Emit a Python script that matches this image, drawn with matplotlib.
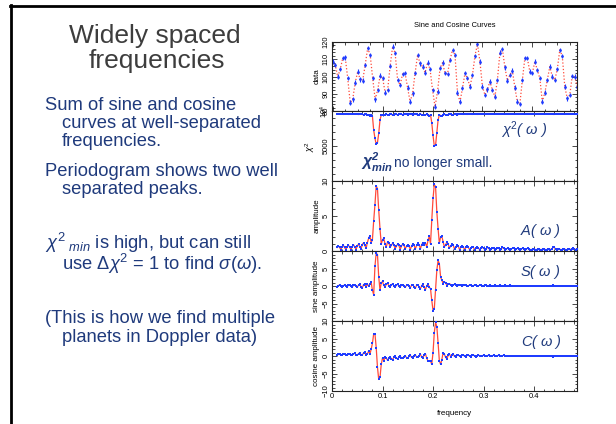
import numpy as np
import matplotlib
matplotlib.use("Agg")
import matplotlib.pyplot as plt
from matplotlib.ticker import MultipleLocator, FixedLocator, FixedFormatter
from matplotlib.lines import Line2D

plt.rcParams['font.family'] = ['Liberation Sans', 'DejaVu Sans']
plt.rcParams['mathtext.fontset'] = 'custom'
plt.rcParams['mathtext.rm'] = 'Liberation Sans'
plt.rcParams['mathtext.it'] = 'Liberation Sans:italic'
plt.rcParams['mathtext.bf'] = 'Liberation Sans:bold:italic'

# ---------------- data ----------------
data_values = [108.6, 106.7, 99.9, 104.2, 110.6, 111.1, 99.0, 84.8, 86.8, 96.4,
               102.8, 98.4, 97.6, 106.7, 116.4, 112.5, 99.0, 86.8, 92.2, 100.5,
               99.0, 90.6, 92.2, 106.1, 117.3, 113.5, 98.0, 95.1, 101.5, 101.9,
               93.5, 85.4, 90.2, 101.9, 112.5, 107.6, 105.7, 102.2, 108.0, 104.2,
               92.2, 82.5, 91.2, 104.8, 108.0, 101.9, 101.5, 109.6, 115.4, 112.5,
               90.6, 85.4, 93.2, 101.9, 99.0, 94.1, 100.9, 111.9, 118.9, 108.6,
               94.1, 89.3, 92.6, 97.0, 92.2, 88.3, 98.0, 113.8, 115.8, 105.3,
               97.6, 100.9, 103.4, 93.5, 85.4, 84.1, 98.0, 110.6, 110.6, 102.8,
               101.9, 108.6, 103.8, 99.0, 85.4, 90.6, 98.0, 105.7, 99.9, 98.0,
               104.2, 115.4, 111.9, 94.1, 87.3, 89.3, 100.3, 99.9, 94.1]
data_time = np.arange(len(data_values))

freq_start, freq_step, n_freq = 0.01, 0.0025, 191
frequency = freq_start + freq_step * np.arange(n_freq)

chi2_values = (
    [9530, 9520, 9530, 9540, 9530, 9510, 9530, 9540, 9530, 9510, 9530, 9540, 9530, 9510, 9520, 9540,
     9520, 9500, 9520, 9540, 9510, 9470, 9500, 9530]
    + [9480, 9390, 9310, 9450, 9300, 7290, 6100, 5240, 5470, 6810, 8710, 9430, 9420, 9390, 9480, 9510]
    + [9460, 9470, 9520, 9500, 9470, 9490, 9530, 9510, 9480, 9500, 9530, 9510, 9490, 9500, 9530,
       9510, 9490, 9510, 9530, 9510, 9480, 9500, 9530, 9500, 9470, 9490, 9530, 9490, 9460, 9490]
    + [9480, 9510, 9440, 9330, 9480, 8300, 6500, 5000, 5100, 6900, 8700, 9450, 9350, 9330, 9450,
       9510, 9480, 9450, 9490, 9520]
    + [9500, 9470, 9490, 9530, 9510, 9490, 9500, 9530, 9520, 9500, 9510, 9530, 9520, 9510, 9520,
       9530, 9520, 9510, 9520, 9530, 9520, 9510, 9520, 9530, 9530, 9520, 9520, 9530, 9530, 9520]
    + [9530, 9530, 9520, 9530, 9530, 9530, 9520, 9530, 9530, 9530,
       9530, 9520, 9530, 9530, 9530, 9520, 9530, 9530, 9530, 9520,
       9530, 9530, 9520, 9530, 9530, 9530, 9520, 9530, 9530, 9530,
       9530, 9520, 9530, 9530, 9530, 9520, 9530, 9530, 9530, 9520,
       9530, 9530, 9520, 9530, 9530, 9530, 9520, 9530, 9530, 9530,
       9530, 9510, 9510, 9530, 9530, 9530, 9520, 9530, 9530, 9530,
       9530, 9520, 9530, 9530, 9530, 9520, 9530, 9530, 9530, 9520, 9530]
)

amplitude_values = (
    [0.5, 0.7, 0.5, 0.2, 0.6, 0.8, 0.5, 0.2, 0.6, 0.8, 0.6, 0.2, 0.6, 0.9, 0.6, 0.2, 0.7, 1.0, 0.6,
     0.3, 0.9, 1.2, 0.8, 0.4]
    + [1.2, 1.8, 2.2, 1.2, 1.6, 4.3, 6.6, 9.3, 8.9, 5.8, 3.2, 1.0, 1.6, 1.8, 1.0, 0.6]
    + [1.3, 1.2, 0.5, 0.8, 1.1, 0.9, 0.3, 0.7, 1.0, 0.8, 0.2, 0.7, 1.0, 0.8, 0.3, 0.7, 0.9, 0.7,
       0.2, 0.7, 1.0, 0.8, 0.3, 0.8, 1.1, 0.9, 0.3, 0.9, 1.2, 0.9]
    + [1.15, 0.6, 1.5, 2.1, 1.0, 4.4, 7.5, 9.5, 9.2, 5.6, 3.2, 1.1, 2.0, 2.1, 1.3, 0.6, 0.9, 1.3, 1.0, 0.4]
    + [0.7, 1.0, 0.8, 0.3, 0.6, 0.8, 0.7, 0.2, 0.5, 0.7, 0.6, 0.2, 0.5, 0.7, 0.5, 0.2, 0.4, 0.6,
       0.5, 0.2, 0.4, 0.5, 0.4, 0.2, 0.4, 0.5, 0.4, 0.2, 0.3, 0.5]
    + [0.4, 0.2, 0.3, 0.4, 0.4, 0.2, 0.3, 0.4, 0.4, 0.2,
       0.3, 0.5, 0.4, 0.2, 0.3, 0.4, 0.3, 0.2, 0.3, 0.4,
       0.4, 0.2, 0.3, 0.4, 0.3, 0.2, 0.3, 0.4, 0.3, 0.1,
       0.3, 0.4, 0.3, 0.2, 0.2, 0.3, 0.3, 0.2, 0.2, 0.3,
       0.3, 0.2, 0.2, 0.3, 0.3, 0.2, 0.2, 0.3, 0.3, 0.2,
       0.3, 0.5, 0.5, 0.3, 0.2, 0.3, 0.3, 0.2, 0.2, 0.3,
       0.3, 0.2, 0.2, 0.3, 0.3, 0.2, 0.3, 0.4, 0.3, 0.2, 0.3]
)

sine_values = (
    [-0.2, 0.1, 0.3, 0.0, -0.3, 0.1, 0.3, 0.0, -0.2, 0.2, 0.3, -0.1, -0.3, 0.2, 0.4, -0.1, -0.4,
     0.3, 0.5, -0.2, -0.5, 0.4, 0.6, -0.3]
    + [0.5, 0.0, 0.6, 1.1, -1.2, -2.5, 5.6, 9.4, 9.0, 2.6, -1.2, 0.9, 1.3, 0.2, -0.3, 0.5]
    + [0.8, 0.1, -0.4, 0.4, 0.6, 0.0, -0.4, 0.3, 0.5, 0.0, -0.4, 0.3, 0.4, -0.1, -0.4, 0.2, 0.4,
       -0.1, -0.5, 0.2, 0.4, -0.2, -0.6, 0.2, 0.4, -0.3, -0.8, 0.1, 0.5, -0.4]
    + [-1.0, 0.0, 0.6, -0.3, -0.8, -4.1, -7.0, -6.5, -1.2, 4.5, 7.3, 6.4, 2.6, 1.6, 0.7, 1.2, 0.9,
       0.1, 0.5, 0.7]
    + [0.4, -0.1, 0.3, 0.5, 0.3, -0.1, 0.2, 0.4, 0.2, -0.1, 0.2, 0.3, 0.2, -0.1, 0.1, 0.3, 0.2,
       -0.1, 0.1, 0.3, 0.2, -0.1, 0.1, 0.2, 0.2, -0.1, 0.1, 0.2, 0.2, 0.0]
    + [0.1, 0.2, 0.1, 0.0, 0.1, 0.2, 0.1, -0.1, 0.1, 0.2,
       0.1, 0.0, 0.1, 0.2, 0.1, 0.0, 0.0, 0.2, 0.1, 0.0,
       0.0, 0.1, 0.1, -0.1, 0.0, 0.1, 0.1, -0.1, 0.0, 0.1,
       0.1, 0.0, 0.0, 0.1, 0.1, 0.0, 0.0, 0.1, 0.1, 0.0,
       0.0, 0.1, 0.1, 0.0, 0.0, 0.1, 0.0, 0.0, 0.0, 0.1,
       0.1, 0.2, 0.0, -0.1, 0.0, 0.1, 0.0, 0.0, 0.0, 0.1,
       0.1, 0.0, 0.0, 0.1, 0.1, 0.0, 0.0, 0.1, 0.1, 0.0, 0.1]
)

cosine_values = (
    [0.2, 0.5, 0.6, 0.3, 0.2, 0.6, 0.7, 0.3, 0.2, 0.6, 0.7, 0.3, 0.2, 0.6, 0.8, 0.3, 0.2, 0.7,
     0.9, 0.3, 0.3, 0.9, 1.1, 0.4, 0.6, 1.4]
    + [0.5, 1.9, 3.6, 6.3, 6.4, 2.4, -3.2, -6.7, -6.1, -2.4, -0.5, -1.4, -0.3, -0.6]
    + [-1.2, -0.6, -0.2, -0.8, -1.0, -0.4, -0.1, -0.7, -0.8, -0.3, 0.0, -0.6, -0.7, -0.2, 0.1,
       -0.5, -0.6, -0.1, 0.2, -0.4, -0.5, 0.0, 0.3, -0.3, -0.4, 0.1, 0.5, -0.3, -0.5, 0.3]
    + [0.6, -0.6, -1.5, -1.4, -1.4, -2.4, 1.0, 6.7, 9.6, 8.4, 3.8, -1.4, -2.4, -1.0, 1.0, 0.5,
       -0.4, -0.8, 0.2, 0.6]
    + [-0.2, 0.3, 0.5, -0.1, -0.3, 0.2, 0.4, -0.1, -0.2, 0.2, 0.4, -0.1, -0.2, 0.2, 0.3, -0.1,
       -0.2, 0.2, 0.3, 0.0, -0.2, 0.1, 0.3, 0.0, -0.1, 0.1, 0.2, 0.0, -0.1, 0.1]
    + [0.2, 0.0, -0.1, 0.1, 0.2, 0.0, -0.1, 0.1, 0.2, 0.0,
       -0.1, 0.1, 0.2, 0.0, -0.1, 0.1, 0.1, 0.0, -0.1, 0.1,
       0.1, 0.0, 0.0, 0.1, 0.1, 0.0, 0.0, 0.1, 0.1, 0.0,
       0.0, 0.1, 0.1, 0.0, 0.0, 0.1, 0.1, 0.0, 0.0, 0.1,
       0.1, 0.0, 0.0, 0.1, 0.1, 0.0, 0.0, 0.1, 0.1, 0.0,
       -0.1, -0.2, 0.0, 0.1, 0.1, 0.0, 0.0, 0.1, 0.1, 0.0,
       0.0, 0.1, 0.1, 0.0, 0.0, 0.1, 0.1, 0.0, 0.0, 0.1, 0.1]
)

x_tick_values = [0, 0.1, 0.2, 0.3, 0.4]
x_tick_labels = ["0", "0.1", "0.2", "0.3", "0.4"]

# ---------------- styling ----------------
W, H = 616, 424
RED = '#ff4a3a'
BLUE = '#1f3cff'
NAVY = '#1f3a7c'
GRAY = '#3d3d3d'
TICKFS = 5.4

fig = plt.figure(figsize=(W / 100, H / 100), dpi=100)
fig.patch.set_facecolor('white')


def fx(x):
    return x / W


def fy(y):
    return 1 - y / H


def ftext(x, y, s, **kw):
    return fig.text(fx(x), fy(y), s, **kw)


# slide frame
fig.add_artist(Line2D([fx(10), 1.0], [fy(6), fy(6)], color='black', lw=2.0))
fig.add_artist(Line2D([fx(11), fx(11)], [fy(5), 0.0], color='black', lw=2.0))

# left text
ftext(155, 43, "Widely spaced", fontsize=19, color=GRAY, ha='center', va='baseline')
ftext(157, 68, "frequencies", fontsize=19, color=GRAY, ha='center', va='baseline')
BFS = 13.2
left_lines = [
    (45, 110, "Sum of sine and cosine"),
    (62, 128, "curves at well-separated"),
    (62, 146, "frequencies."),
    (45, 176, "Periodogram shows two well"),
    (62, 194, "separated peaks."),
    (45, 249, r"$\chi^2$$_{\ min}$ is high, but can still"),
    (62, 270, r"use $\Delta\chi^2$ = $1$ to find $\sigma(\omega).$"),
    (45, 323, "(This is how we find multiple"),
    (62, 342, "planets in Doppler data)"),
]
for x, y, s in left_lines:
    ftext(x, y, s, fontsize=BFS, color=NAVY, ha='left', va='baseline')

# axes geometry (pixels)
left_px, right_px = 332, 577
panel_edges = [42, 111, 181, 251, 321, 391]
axes = []
for k in range(5):
    top, bot = panel_edges[k], panel_edges[k + 1]
    ax = fig.add_axes([fx(left_px), fy(bot), (right_px - left_px) / W, (bot - top) / H])
    axes.append(ax)

for ax in axes:
    for sp in ax.spines.values():
        sp.set_linewidth(0.8)
        sp.set_color('#222222')
    ax.tick_params(which='both', direction='in', top=True, right=True, width=0.5,
                   labelsize=TICKFS, pad=1.5)
    ax.tick_params(which='major', length=3.5)
    ax.tick_params(which='minor', length=1.8)
    ax.tick_params(axis='y', labelrotation=90)

ax_d, ax_c2, ax_a, ax_s, ax_c = axes

# data panel
ax_d.plot(data_time, data_values, linestyle=(0, (1, 1.6)), color=RED, lw=0.9)
ax_d.errorbar(data_time, data_values, yerr=1.3, fmt='o', ms=2.0, color=BLUE,
              ecolor=BLUE, elinewidth=0.8, capsize=0, mew=0)
ax_d.set_xlim(-0.3, 97.9)
ax_d.set_ylim(80, 120)
ax_d.xaxis.set_major_locator(MultipleLocator(20))
ax_d.xaxis.set_minor_locator(MultipleLocator(5))
ax_d.set_xticklabels([])
ax_d.yaxis.set_major_locator(FixedLocator([80, 90, 100, 110, 120]))
ax_d.yaxis.set_minor_locator(MultipleLocator(2))
ax_d.set_ylabel("data", fontsize=TICKFS + 0.4, labelpad=2)

# periodogram panels
for ax, vals in [(ax_c2, chi2_values), (ax_a, amplitude_values),
                 (ax_s, sine_values), (ax_c, cosine_values)]:
    ax.plot(frequency, vals, color=RED, lw=0.9, zorder=2)
    ax.plot(frequency, vals, 's', color=BLUE, ms=2.1, mew=0, zorder=3)
    ax.set_xlim(0, 0.485)
    ax.xaxis.set_major_locator(FixedLocator(x_tick_values))
    ax.xaxis.set_minor_locator(MultipleLocator(0.02))
    if ax is not ax_c:
        ax.set_xticklabels([])

ax_c2.set_ylim(0, 10000)
ax_c2.yaxis.set_major_locator(FixedLocator([0, 5000, 10000]))
ax_c2.yaxis.set_major_formatter(FixedFormatter(["", "5000", r"10$^4$"]))
ax_c2.yaxis.set_minor_locator(MultipleLocator(1000))
ax_c2.set_ylabel(r"$\chi^2$", fontsize=TICKFS + 1, labelpad=1)

ax_a.set_ylim(0, 10)
ax_a.yaxis.set_major_locator(FixedLocator([0, 5, 10]))
ax_a.yaxis.set_minor_locator(MultipleLocator(1))
ax_a.set_ylabel("amplitude", fontsize=TICKFS + 0.4, labelpad=2)

ax_s.set_ylim(-10, 10)
ax_s.yaxis.set_major_locator(FixedLocator([-10, -5, 0, 5, 10]))
ax_s.yaxis.set_major_formatter(FixedFormatter(["", "\u22125", "0", "5", ""]))
ax_s.yaxis.set_minor_locator(MultipleLocator(1))
ax_s.set_ylabel("sine amplitude", fontsize=TICKFS + 0.4, labelpad=2)

ax_c.set_ylim(-10, 10)
ax_c.yaxis.set_major_locator(FixedLocator([-10, -5, 0, 5, 10]))
ax_c.yaxis.set_major_formatter(FixedFormatter(["\u221210", "\u22125", "0", "5", "10"]))
ax_c.yaxis.set_minor_locator(MultipleLocator(1))
ax_c.set_ylabel("cosine amplitude", fontsize=TICKFS + 0.4, labelpad=2)
ax_c.set_xticklabels(x_tick_labels)
ax_c.set_xlabel("frequency", fontsize=TICKFS + 0.4, labelpad=7)

for ax in axes:
    for lab in ax.get_yticklabels():
        lab.set_va('center')

# title
ftext(454.5, 27, "Sine and Cosine Curves", fontsize=TICKFS, ha='center', va='baseline')

# annotations on panels
ftext(501, 135, r"$\chi^2$( $\omega$ )", fontsize=10.5, color=NAVY, style='italic', va='baseline')
ftext(520, 235, r"A( $\omega$ )", fontsize=10.5, color=NAVY, style='italic', va='baseline')
ftext(520, 276, r"S( $\omega$ )", fontsize=10.5, color=NAVY, style='italic', va='baseline')
ftext(521, 346, r"C( $\omega$ )", fontsize=10.5, color=NAVY, style='italic', va='baseline')
ftext(361, 168, r"$\mathbf{\chi^2_{min}}$", fontsize=11.5, color=NAVY, va='baseline')
ftext(394, 167, "no longer small.", fontsize=10, color=NAVY, va='baseline')

fig.savefig("out.png", dpi=100)
